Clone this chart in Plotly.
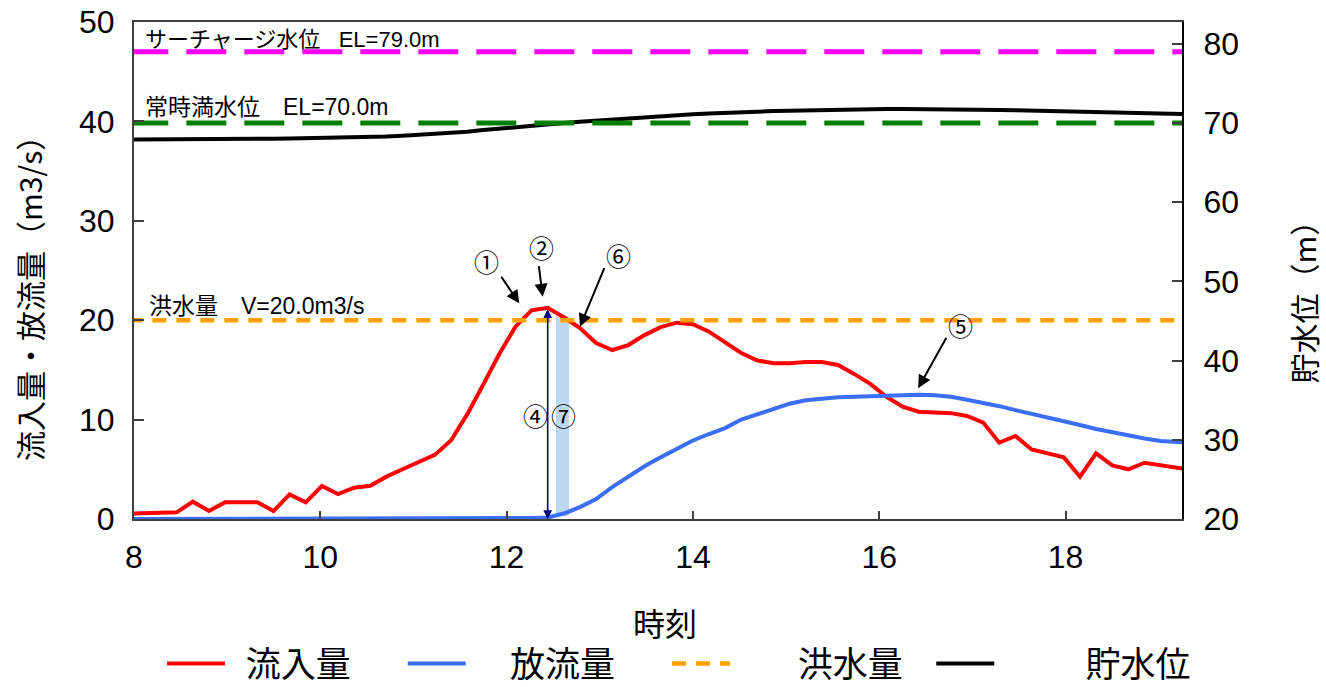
import plotly.graph_objects as go

# ---------------- data ----------------
TIME_START = 7.939      # hours
TIME_STEP = 0.17315     # hours between samples

inflow = [0.55, 0.6, 0.67, 0.67, 1.74, 0.8, 1.68, 1.68, 1.68, 0.8,
          2.48, 1.68, 3.32, 2.5, 3.15, 3.35, 4.26, 5.0, 5.77, 6.45,
          7.9, 10.5, 13.5, 16.6, 19.35, 21.0, 21.25, 20.3, 19.2, 17.7,
          17.0, 17.5, 18.5, 19.3, 19.75, 19.6, 18.85, 17.8, 16.7, 15.95,
          15.66, 15.66, 15.8, 15.8, 15.5, 14.6, 13.6, 12.3, 11.3, 10.8,
          10.75, 10.65, 10.36, 9.7, 7.68, 8.35, 7.0, 6.6, 6.2, 4.26,
          6.6, 5.4, 5.0, 5.66, 5.4, 5.1, 4.9]

outflow = [0.0, 0.0, 0.0, 0.0, 0.0, 0.0, 0.0, 0.0, 0.0, 0.0,
           0.0, 0.0, 0.0, 0.0, 0.0, 0.0, 0.0, 0.0, 0.1, 0.1,
           0.1, 0.1, 0.1, 0.1, 0.1, 0.1, 0.15, 0.55, 1.2, 2.0,
           3.2, 4.3, 5.3, 6.2, 7.05, 7.9, 8.55, 9.15, 10.0, 10.55,
           11.05, 11.6, 11.95, 12.15, 12.25, 12.3, 12.35, 12.4, 12.45, 12.5,
           12.45, 12.3, 12.0, 11.7, 11.35, 10.95, 10.6, 10.2, 9.8, 9.45,
           9.05, 8.7, 8.4, 8.1, 7.85, 7.7, 7.65]

level = [67.9, 67.9, 67.9, 67.92, 67.95, 67.95, 67.97, 68.0, 68.0, 68.02,
         68.05, 68.08, 68.1, 68.15, 68.2, 68.25, 68.3, 68.4, 68.5, 68.6,
         68.75, 68.9, 69.1, 69.3, 69.5, 69.7, 69.85, 70.0, 70.15, 70.3,
         70.45, 70.6, 70.75, 70.9, 71.0, 71.1, 71.2, 71.3, 71.38, 71.45,
         71.5, 71.55, 71.6, 71.65, 71.7, 71.72, 71.75, 71.75, 71.75, 71.75,
         71.75, 71.72, 71.7, 71.68, 71.65, 71.6, 71.55, 71.5, 71.45, 71.4,
         71.35, 71.3, 71.25, 71.2, 71.15, 71.1, 71.1]

FLOOD_Q = 20.0        # 洪水量 m3/s
SURCHARGE_EL = 79.0   # サーチャージ水位
NORMAL_EL = 70.0      # 常時満水位

x_ticks = [8, 10, 12, 14, 16, 18]
y1_ticks = [0, 10, 20, 30, 40, 50]
y2_ticks = [20, 30, 40, 50, 60, 70, 80]

series_names = ["流入量", "放流量", "洪水量", "貯水位"]

X_RANGE = [8, 19.25]
Y1_RANGE = [0, 50]
Y2_RANGE = [20, 82.75]
BAND_X = [12.53, 12.67]

times = [TIME_START + TIME_STEP * i for i in range(len(inflow))]
peak_idx = max(range(len(inflow)), key=lambda i: inflow[i])

# ---------------- style ----------------
FONT = "Liberation Sans, Noto Sans CJK JP, sans-serif"
JFONT = "Noto Sans CJK JP, Liberation Sans, sans-serif"
RED = "#FF0000"
BLUE = "#3A6EF6"
ORANGE = "#FFA000"
GREEN = "#008000"
PINK = "#FF00FF"
AXIS = "#404040"
NB = "\u00a0"
legend_lead = [2, 5, 8, 11]    # leading spacing of legend labels
legend_trail = [6, 6, 3, 0]    # trailing spacing of legend labels


def legend_name(i):
    return NB * legend_lead[i] + series_names[i] + NB * legend_trail[i]


fig = go.Figure()
fig.add_trace(go.Scatter(x=times, y=inflow, name=legend_name(0), mode="lines",
                         line=dict(color=RED, width=4)))
fig.add_trace(go.Scatter(x=times, y=outflow, name=legend_name(1), mode="lines",
                         line=dict(color=BLUE, width=4)))
fig.add_trace(go.Scatter(x=times, y=[FLOOD_Q] * len(times), name=legend_name(2),
                         mode="lines", line=dict(color=ORANGE, width=4.5, dash="14px,10px")))
fig.add_trace(go.Scatter(x=times, y=level, name=legend_name(3), mode="lines",
                         yaxis="y2", line=dict(color="black", width=4)))
fig.add_trace(go.Scatter(x=[times[0], times[-1]], y=[SURCHARGE_EL, SURCHARGE_EL], yaxis="y2",
                         mode="lines", showlegend=False, hoverinfo="skip",
                         line=dict(color=PINK, width=5, dash="40px,18px")))
fig.add_trace(go.Scatter(x=[times[0], times[-1]], y=[NORMAL_EL, NORMAL_EL], yaxis="y2",
                         mode="lines", showlegend=False, hoverinfo="skip",
                         line=dict(color=GREEN, width=5, dash="40px,18px")))

# light-blue band (7)
fig.add_shape(type="rect", xref="x", yref="y", x0=BAND_X[0], x1=BAND_X[1],
              y0=0.3, y1=FLOOD_Q + 0.4, fillcolor="#BDD7EE", line=dict(width=0), layer="below")

ann = []
# reference line labels
ann.append(dict(text="サーチャージ水位" + NB + NB + " EL=79.0m", xref="paper", x=0.0086, xanchor="left",
                yref="y2", y=SURCHARGE_EL, yanchor="middle", yshift=12,
                showarrow=False, font=dict(size=22, family=FONT, color="black")))
ann.append(dict(text="常時満水位　EL=70.0m", xref="paper", x=0.0086, xanchor="left",
                yref="y2", y=NORMAL_EL, yanchor="middle", yshift=16,
                showarrow=False, font=dict(size=23, family=FONT, color="black")))
ann.append(dict(text="洪水量　V=20.0m3/s", xref="paper", x=0.012, xanchor="left",
                yref="y", y=FLOOD_Q, yanchor="middle", yshift=14,
                showarrow=False, font=dict(size=23, family=FONT, color="black")))

# double arrow (4)
ann.append(dict(x=times[peak_idx], y=0, xref="x", yref="y",
                ax=times[peak_idx], ay=inflow[peak_idx], axref="x", ayref="y",
                text="", showarrow=True, arrowside="end+start",
                arrowhead=2, startarrowhead=2, arrowsize=1.1, startarrowsize=1.1,
                arrowwidth=1.6, arrowcolor="#000080"))

# black arrows (head x, head y, tail offset px)
arrows = [
    (12.136, 21.7, -19, -28),   # (1)
    (12.387, 22.36, -4, -32),   # (2)
    (12.537, -0.1, 25, 23),     # (3)
    (16.418, 13.15, 29, -52),   # (5)
    (12.787, 19.35, 25, -60),   # (6)
]
for hx, hy, ax, ay in arrows:
    ann.append(dict(x=hx, y=hy, xref="x", yref="y", ax=ax, ay=ay, text="",
                    showarrow=True, arrowhead=2, arrowsize=1.3, arrowwidth=2,
                    arrowcolor="black"))

labels = [
    ("①", 11.786, 25.99),
    ("②", 12.376, 27.4),
    ("③", 12.913, -3.95),
    ("④", 12.305, 10.46),
    ("⑤", 16.873, 19.52),
    ("⑥", 13.199, 26.56),
    ("⑦", 12.608, 10.46),
]
for t, lx, ly in labels:
    ann.append(dict(text=t, x=lx, y=ly, xref="x", yref="y", showarrow=False,
                    xanchor="center", yanchor="middle",
                    font=dict(size=25, family=JFONT, color="black")))

# axis titles
ann.append(dict(text="時刻", xref="paper", yref="paper", x=0.5067, y=-0.2072,
                showarrow=False, xanchor="center", yanchor="middle",
                font=dict(size=32, family=JFONT, color="black")))
ann.append(dict(text="流入量・放流量（m3/s）", xref="paper", yref="paper", x=-0.1002, y=0.4588,
                textangle=-90, showarrow=False, xanchor="center", yanchor="middle",
                font=dict(size=30, family=JFONT, color="black")))
ann.append(dict(text="貯水位（m）", xref="paper", yref="paper", x=1.115, y=0.4507,
                textangle=-90, showarrow=False, xanchor="center", yanchor="middle",
                font=dict(size=30, family=JFONT, color="black")))

fig.update_layout(
    width=1326, height=687,
    margin=dict(l=134, r=144, t=22, b=168, autoexpand=False),
    paper_bgcolor="white", plot_bgcolor="white",
    font=dict(family=FONT, color="black"),
    annotations=ann,
    showlegend=True,
    legend=dict(orientation="h", xref="container", x=0.1222, xanchor="left",
                yref="container", y=0.034, yanchor="middle",
                font=dict(size=35, family=JFONT, color="black"),
                itemwidth=58, bgcolor="rgba(0,0,0,0)"),
    xaxis=dict(range=X_RANGE, tickvals=x_ticks, ticktext=[str(v) for v in x_ticks],
               ticks="inside", ticklen=8, tickcolor=AXIS, tickwidth=1.5,
               showline=True, linecolor=AXIS, linewidth=2, mirror=True,
               showgrid=False, zeroline=False,
               tickfont=dict(size=32, family=FONT, color="black"), ticklabelstandoff=9),
    yaxis=dict(range=Y1_RANGE, tickvals=y1_ticks,
               ticks="inside", ticklen=10, tickcolor=AXIS, tickwidth=1.5,
               showline=True, linecolor=AXIS, linewidth=2,
               showgrid=False, zeroline=False,
               tickfont=dict(size=32, family=FONT, color="black"), ticklabelstandoff=11),
    yaxis2=dict(range=Y2_RANGE, tickvals=y2_ticks, overlaying="y", side="right",
                ticks="inside", ticklen=10, tickcolor=AXIS, tickwidth=1.5,
                showline=True, linecolor="black", linewidth=2,
                showgrid=False, zeroline=False,
                tickfont=dict(size=32, family=FONT, color="black"), ticklabelstandoff=13),
)

fig.write_html("out.html", config={"displayModeBar": False},
               post_script="document.body.style.margin='0';document.body.style.overflow='hidden';")
